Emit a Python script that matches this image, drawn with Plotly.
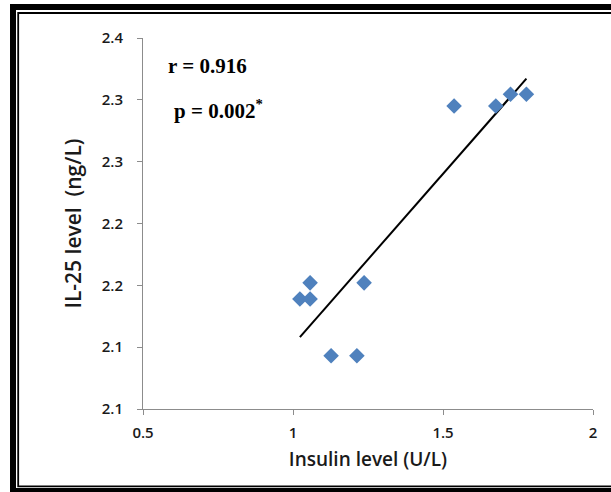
import numpy as np
import plotly.graph_objects as go

# Data
insulin = [1.023, 1.057, 1.057, 1.127, 1.213, 1.237, 1.537, 1.676, 1.725, 1.778]
il25 = [2.189, 2.189, 2.202, 2.143, 2.143, 2.202, 2.345, 2.345, 2.3545, 2.3545]

x_tick_vals = [0.5, 1, 1.5, 2]
x_tick_text = ["0.5", "1", "1.5", "2"]
y_tick_vals = [2.10, 2.15, 2.20, 2.25, 2.30, 2.35, 2.40]
y_tick_text = ["2.1", "2.1", "2.2", "2.2", "2.3", "2.3", "2.4"]

r_text = "r = 0.916"
p_text = "p = 0.002<sup>*</sup>"

# Linear trendline (least squares) from the data
slope, intercept = np.polyfit(insulin, il25, 1)
trend_x = [min(insulin), max(insulin)]
trend_y = [slope * v + intercept for v in trend_x]

W, H = 611, 492
ML, MR, MT, MB = 143, 18, 38, 83
PW, PH = W - ML - MR, H - MT - MB


def px(xpix):
    return (xpix - ML) / PW


def py(ypix):
    return 1 - (ypix - MT) / PH


fig = go.Figure()
fig.add_trace(go.Scatter(
    x=trend_x, y=trend_y, mode="lines",
    line=dict(color="black", width=2), showlegend=False, hoverinfo="skip"))
fig.add_trace(go.Scatter(
    x=insulin, y=il25, mode="markers",
    marker=dict(symbol="diamond", size=12, color="#4F81BD"),
    showlegend=False))

axis_common = dict(
    showgrid=False, zeroline=False, showline=True, linecolor="#8c8c8c",
    linewidth=1, ticks="outside", ticklen=5, tickcolor="#8c8c8c",
    tickfont=dict(family="Open Sans", size=15, color="#1a1a1a", weight=600),
)

fig.update_xaxes(
    range=[0.5, 2], tickvals=x_tick_vals, ticktext=x_tick_text,
    ticklabelstandoff=5,
    title=dict(text="Insulin level (U/L)",
               font=dict(family="Open Sans", size=19, color="#1a1a1a", weight=600),
               standoff=11),
    **axis_common)
fig.update_yaxes(
    range=[2.1, 2.4], tickvals=y_tick_vals, ticktext=y_tick_text,
    ticklabelstandoff=11,
    title=dict(text="IL-25 level  (ng/L)",
               font=dict(family="Open Sans", size=21, color="#1a1a1a", weight=600),
               standoff=14),
    **axis_common)

shapes = [
    # thick outer frame pieces
    dict(type="rect", xref="paper", yref="paper", x0=px(10), x1=px(620),
         y0=py(10), y1=py(4), fillcolor="black", line=dict(width=0)),
    dict(type="rect", xref="paper", yref="paper", x0=px(10), x1=px(620),
         y0=py(500), y1=py(488), fillcolor="black", line=dict(width=0)),
    dict(type="rect", xref="paper", yref="paper", x0=px(10), x1=px(16),
         y0=py(500), y1=py(4), fillcolor="black", line=dict(width=0)),
    # thin inner frame
    dict(type="rect", xref="paper", yref="paper", x0=px(18.2), x1=px(620),
         y0=py(486.3), y1=py(13), fillcolor="rgba(0,0,0,0)",
         line=dict(color="black", width=1.8)),
]

annotations = [
    dict(text=r_text, xref="paper", yref="paper", x=px(166), y=py(66),
         xanchor="left", yanchor="middle", showarrow=False,
         font=dict(family="Liberation Serif", size=21, color="black", weight="bold")),
    dict(text=p_text, xref="paper", yref="paper", x=px(172), y=py(109),
         xanchor="left", yanchor="middle", showarrow=False,
         font=dict(family="Liberation Serif", size=21, color="black", weight="bold")),
]

fig.update_layout(
    width=W, height=H,
    margin=dict(l=ML, r=MR, t=MT, b=MB),
    paper_bgcolor="white", plot_bgcolor="white",
    shapes=shapes, annotations=annotations,
)

fig.write_html(
    "out.html",
    config={"displayModeBar": False},
    post_script="document.body.style.margin='0';document.body.style.overflow='hidden';",
)
